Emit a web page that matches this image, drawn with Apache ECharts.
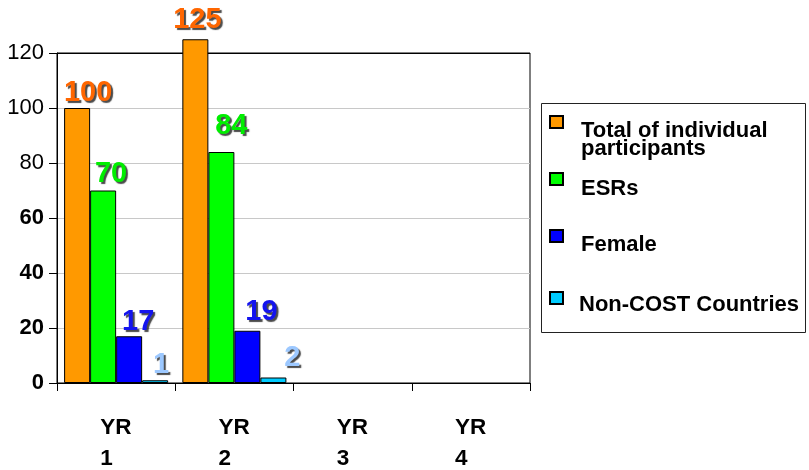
<!DOCTYPE html>
<html>
<head>
<meta charset="utf-8">
<script src="https://cdn.jsdelivr.net/npm/echarts@6/dist/echarts.min.js"></script>
<style>
  html, body { margin: 0; padding: 0; background: #fff; }
  #chart { width: 809px; height: 470px; }
</style>
</head>
<body>
<div id="chart"></div>
<script>
// Participation per project year
const categories = ['YR 1', 'YR 2', 'YR 3', 'YR 4'];
const seriesNames = ['Total of individual participants', 'ESRs', 'Female', 'Non-COST Countries'];
const totalParticipants = [100, 125, null, null];
const esrs = [70, 84, null, null];
const female = [17, 19, null, null];
const nonCost = [1, 2, null, null];
const yTicks = [0, 20, 40, 60, 80, 100, 120];

const FONT = '"Liberation Sans", Arial, sans-serif';
const barColors = ['#ff9900', '#00ff00', '#0000ff', '#00ccff'];
const labelColors = ['#ff6600', '#00ee00', '#1414ee', '#9cc8ff'];

// per-label nudges [dx, lift] so value labels sit like hand-placed callouts
const labelNudge = [
  [[11, 1], [2, 5]],
  [[8, 2], [10, 12]],
  [[9, 0], [14, 4]],
  [[6, 1], [19, 5]]
];

const values = [totalParticipants, esrs, female, nonCost];

const series = values.map((arr, s) => ({
  name: seriesNames[s],
  type: 'bar',
  clip: false,
  barGap: '0%',
  barCategoryGap: '12%',
  itemStyle: { color: barColors[s], borderColor: '#000', borderWidth: 1 },
  label: {
    show: true,
    position: 'top',
    distance: 0,
    fontFamily: FONT,
    fontSize: 29,
    fontWeight: 'bold',
    color: labelColors[s],
    textShadowColor: 'rgba(30,30,30,0.8)',
    textShadowOffsetX: 2,
    textShadowOffsetY: 2,
    textShadowBlur: 1
  },
  data: arr.map((v, i) => v == null ? null : {
    value: v,
    label: { offset: [labelNudge[s][i] ? labelNudge[s][i][0] : 0, labelNudge[s][i] ? -labelNudge[s][i][1] : 0] }
  })
}));

// legend entries: [top, spacer height above the text, left text gap, text lines]
const legendSlots = [
  [86, 36, 13, ['Total of individual', 'participants']],
  [160.5, 19, 13, ['ESRs']],
  [218, 18, 13, ['Female']],
  [282, 14, 11, ['Non-COST Countries']]
];

const legendTextStyle = { fontFamily: FONT, fontSize: 22, fontWeight: 'bold', color: '#000', lineHeight: 18 };

const legends = seriesNames.map((name, s) => ({
  data: [name],
  left: 549,
  top: legendSlots[s][0],
  padding: 0,
  orient: 'vertical',
  itemWidth: 13,
  itemHeight: 12,
  selectedMode: false,
  icon: 'rect',
  formatter: () => '{g| }\n' + legendSlots[s][3].map(line => '{t|' + line + '}').join('\n'),
  textStyle: {
    fontFamily: FONT,
    fontSize: 22,
    fontWeight: 'bold',
    color: '#000',
    padding: [0, 0, 0, legendSlots[s][2]],
    rich: {
      g: { fontSize: 2, lineHeight: legendSlots[s][1], height: legendSlots[s][1] },
      t: legendTextStyle
    }
  }
}));

const chart = echarts.init(document.getElementById('chart'), null, { renderer: 'canvas' });
chart.setOption({
  animation: false,
  backgroundColor: '#fff',
  grid: {
    left: 57, right: 279, top: 53, bottom: 86,
    show: true, borderColor: '#000', borderWidth: 1, backgroundColor: '#fff'
  },
  graphic: [{
    type: 'rect',
    left: 541, top: 103,
    shape: { width: 264, height: 229 },
    style: { fill: '#fff', stroke: '#222', lineWidth: 1 },
    z: -1
  }],
  legend: legends,
  xAxis: {
    type: 'category',
    data: categories,
    axisLine: { lineStyle: { color: '#000', width: 1 } },
    axisTick: { show: true, length: 8, lineStyle: { color: '#000' } },
    axisLabel: {
      margin: 29,
      formatter: v => v.split(' ').map(p => '{a|' + p + '}').join('\n'),
      rich: {
        a: { fontFamily: FONT, fontSize: 22.5, fontWeight: 'bold', color: '#000', width: 32, align: 'left', lineHeight: 31 }
      }
    }
  },
  yAxis: {
    type: 'value',
    min: yTicks[0],
    max: yTicks[yTicks.length - 1],
    interval: yTicks[1] - yTicks[0],
    axisLine: { show: true, lineStyle: { color: '#000', width: 1 } },
    axisTick: { show: true, length: 8, lineStyle: { color: '#000' } },
    axisLabel: {
      margin: 13,
      formatter: v => (v <= 60 ? '{b|' : '{r|') + v + '}',
      rich: {
        b: { fontFamily: FONT, fontSize: 22, fontWeight: 'bold', color: '#000' },
        r: { fontFamily: FONT, fontSize: 22, fontWeight: 'normal', color: '#000' }
      }
    },
    splitLine: {
      show: true,
      lineStyle: { color: ['#c8c8c8', '#c8c8c8', '#c8c8c8', '#c8c8c8', '#c8c8c8', '#c8c8c8', '#000'], width: 1 }
    }
  },
  series: series
});
</script>
</body>
</html>
